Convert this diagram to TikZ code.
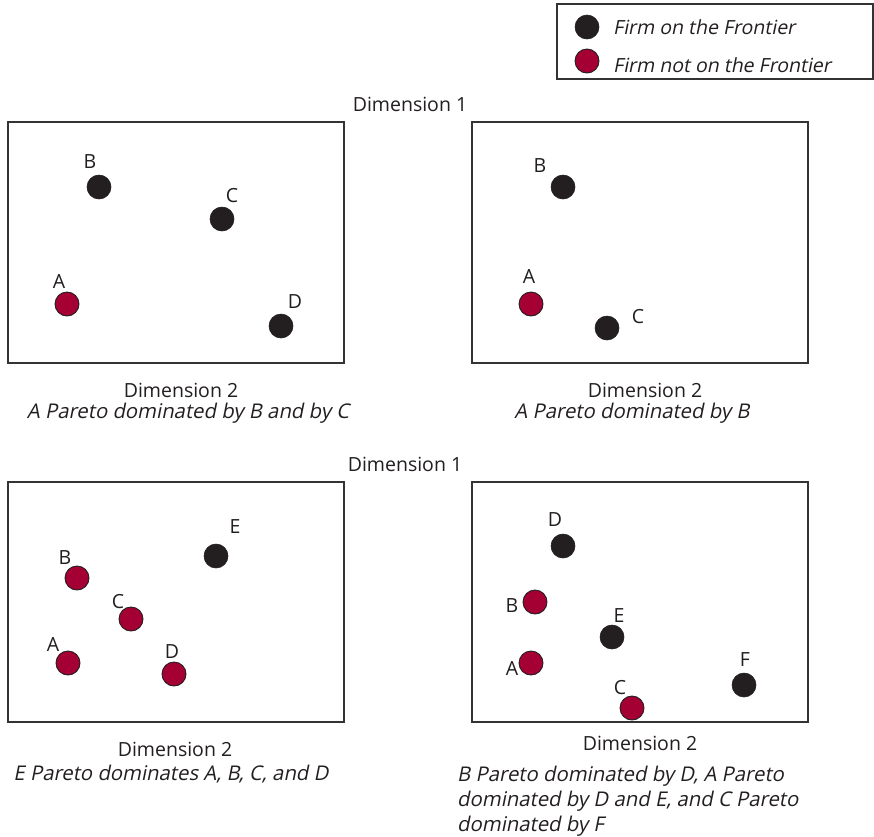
\documentclass[tikz,border=0pt]{standalone}
\usepackage{fontspec}
\setmainfont{Open Sans}[ItalicFont=Open Sans, ItalicFeatures={FakeSlant=0.2}]
\definecolor{firmblack}{HTML}{231F20}
\definecolor{firmred}{HTML}{A50034}
\definecolor{framegray}{HTML}{333333}
\begin{document}
\begin{tikzpicture}[x=1pt,y=-1pt,
  every node/.style={font=\fontsize{19.5}{23}\selectfont, text=firmblack},
  panel/.style={draw=framegray, line width=1.1pt},
  onf/.style={circle, fill=firmblack, draw=firmblack, line width=0.6pt, minimum size=24pt, inner sep=0pt},
  offf/.style={circle, fill=firmred, draw=firmblack, line width=0.9pt, minimum size=24pt, inner sep=0pt},
  lab/.style={anchor=center, inner sep=0pt},
  dimlab/.style={anchor=base, inner sep=0pt},
  captxt/.style={anchor=base, inner sep=0pt, font=\fontsize{20.3}{23}\selectfont\itshape},
  leglab/.style={anchor=base west, inner sep=0pt, font=\fontsize{19.5}{23}\selectfont\itshape}]
\useasboundingbox (0,0) rectangle (874,836);
\fill[white] (0,0) rectangle (874,836);

% legend
\draw[panel] (557,4) rectangle (873,79);
\node[onf] (legon) at (587,27) {};
\node[offf] (legoff) at (587,61) {};
\node[leglab] (legontxt) at (613,34) {Firm on the Frontier};
\node[leglab] (legofftxt) at (613,72) {Firm not on the Frontier};

% Dimension 1 labels
\node[dimlab] (dimA) at (410,111) {Dimension 1};
\node[dimlab] (dimB) at (405,471) {Dimension 1};

% Panel 1
\draw[panel] (8,122) rectangle (344,363);
\node[onf] (p1B) at (99,187) {};
\node[onf] (p1C) at (222,219) {};
\node[offf] (p1A) at (67,304) {};
\node[onf] (p1D) at (281,326) {};
\node[lab] (p1Bl) at (90,162) {B};
\node[lab] (p1Cl) at (232,196) {C};
\node[lab] (p1Al) at (59,282) {A};
\node[lab] (p1Dl) at (295,302) {D};
\node[dimlab] (p1d2) at (181,397) {Dimension 2};
\node[captxt] (p1cap) at (188,418) {A Pareto dominated by B and by C};

% Panel 2
\draw[panel] (472,122) rectangle (808,363);
\node[onf] (p2B) at (563,187) {};
\node[offf] (p2A) at (531,304) {};
\node[onf] (p2C) at (607,328) {};
\node[lab] (p2Bl) at (540,166) {B};
\node[lab] (p2Al) at (529,277) {A};
\node[lab] (p2Cl) at (638,317) {C};
\node[dimlab] (p2d2) at (645,397) {Dimension 2};
\node[captxt] (p2cap) at (632,418) {A Pareto dominated by B};

% Panel 3
\draw[panel] (8,482) rectangle (344,722);
\node[onf] (p3E) at (216,556) {};
\node[offf] (p3B) at (77,578) {};
\node[offf] (p3C) at (131,619) {};
\node[offf] (p3A) at (68,663) {};
\node[offf] (p3D) at (174,674) {};
\node[lab] (p3El) at (235,527) {E};
\node[lab] (p3Bl) at (65,558) {B};
\node[lab] (p3Cl) at (118,602) {C};
\node[lab] (p3Al) at (53,644) {A};
\node[lab] (p3Dl) at (172,652) {D};
\node[dimlab] (p3d2) at (175,756) {Dimension 2};
\node[captxt] (p3cap) at (171,780) {E Pareto dominates A, B, C, and D};

% Panel 4
\draw[panel] (472,482) rectangle (808,722);
\node[onf] (p4D) at (563,546) {};
\node[offf] (p4B) at (535,602) {};
\node[onf] (p4E) at (612,637) {};
\node[offf] (p4A) at (531,663) {};
\node[onf] (p4F) at (744,685) {};
\node[offf] (p4C) at (632,708) {};
\node[lab] (p4Dl) at (555,520) {D};
\node[lab] (p4Bl) at (512,606) {B};
\node[lab] (p4El) at (619,616) {E};
\node[lab] (p4Al) at (512,668) {A};
\node[lab] (p4Fl) at (745,660) {F};
\node[lab] (p4Cl) at (620,688) {C};
\node[dimlab] (p4d2) at (640,750) {Dimension 2};
\node[captxt, anchor=base west] (p4cap1) at (457,781) {B Pareto dominated by D, A Pareto};
\node[captxt, anchor=base west] (p4cap2) at (457,806) {dominated by D and E, and C Pareto};
\node[captxt, anchor=base west] (p4cap3) at (457,831) {dominated by F};
\end{tikzpicture}
\end{document}
